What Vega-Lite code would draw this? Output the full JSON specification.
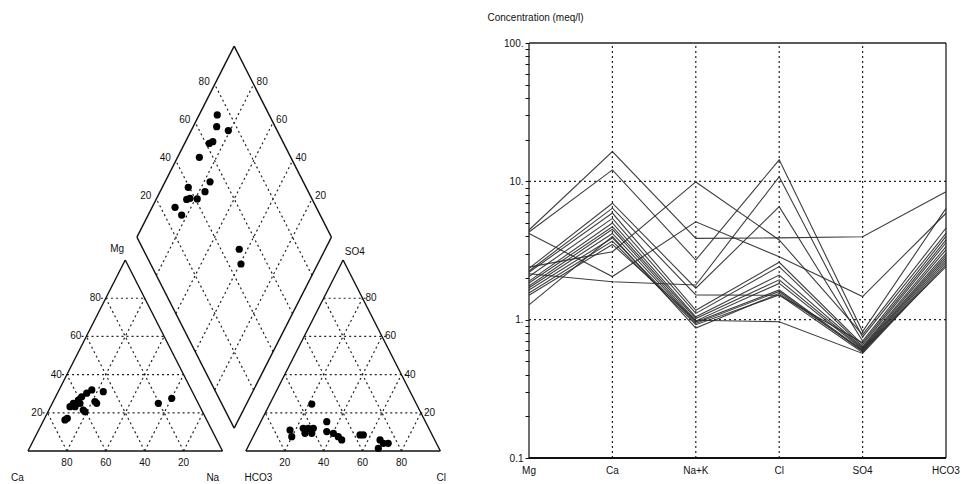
{
 "$schema": "https://vega.github.io/schema/vega-lite/v6.json",
 "width": 964, "height": 484, "padding": 0, "autosize": {"type": "none"},
 "background": "white",
 "config": {"view": {"stroke": null}, "text": {"font": "Liberation Sans", "fontSize": 10, "color": "#111"}},
 "datasets": {
  "pframe": [
   {"x":0,"y":0,"x2":100,"y2":0},{"x":100,"y":0,"x2":50,"y2":86.603},{"x":50,"y":86.603,"x2":0,"y2":0},
   {"x":112,"y":0,"x2":212,"y2":0},{"x":212,"y":0,"x2":162,"y2":86.603},{"x":162,"y":86.603,"x2":112,"y2":0},
   {"x":106,"y":10.392,"x2":56,"y2":96.995},{"x":56,"y":96.995,"x2":106,"y2":183.597},{"x":106,"y":183.597,"x2":156,"y2":96.995},{"x":156,"y":96.995,"x2":106,"y2":10.392}
  ],
  "pgrid": [
   {"x":7.5,"y":17.321,"x2":90,"y2":17.321},{"x":17.5,"y":34.641,"x2":80,"y2":34.641},{"x":27.5,"y":51.962,"x2":70,"y2":51.962},{"x":37.5,"y":69.282,"x2":60,"y2":69.282},
   {"x":80,"y":0,"x2":40,"y2":69.282},{"x":60,"y":0,"x2":30,"y2":51.962},{"x":40,"y":0,"x2":20,"y2":34.641},{"x":20,"y":0,"x2":10,"y2":17.321},
   {"x":20,"y":0,"x2":60,"y2":69.282},{"x":40,"y":0,"x2":70,"y2":51.962},{"x":60,"y":0,"x2":80,"y2":34.641},{"x":80,"y":0,"x2":90,"y2":17.321},
   {"x":122,"y":17.321,"x2":204.5,"y2":17.321},{"x":132,"y":34.641,"x2":194.5,"y2":34.641},{"x":142,"y":51.962,"x2":184.5,"y2":51.962},{"x":152,"y":69.282,"x2":174.5,"y2":69.282},
   {"x":192,"y":0,"x2":152,"y2":69.282},{"x":172,"y":0,"x2":142,"y2":51.962},{"x":152,"y":0,"x2":132,"y2":34.641},{"x":132,"y":0,"x2":122,"y2":17.321},
   {"x":132,"y":0,"x2":172,"y2":69.282},{"x":152,"y":0,"x2":182,"y2":51.962},{"x":172,"y":0,"x2":192,"y2":34.641},{"x":192,"y":0,"x2":202,"y2":17.321},
   {"x":116,"y":27.713,"x2":66,"y2":114.315},{"x":126,"y":45.033,"x2":76,"y2":131.636},{"x":136,"y":62.354,"x2":86,"y2":148.957},{"x":146,"y":79.674,"x2":96,"y2":166.277},
   {"x":96,"y":27.713,"x2":146,"y2":114.315},{"x":86,"y":45.033,"x2":136,"y2":131.636},{"x":76,"y":62.354,"x2":126,"y2":148.957},{"x":66,"y":79.674,"x2":116,"y2":166.277}
  ],
  "ppts": [
   {"x":19.0,"y":14.1},{"x":20.2,"y":14.8},{"x":21.6,"y":20.1},{"x":23.3,"y":21.6},{"x":24.2,"y":20.1},{"x":25.9,"y":23.1},{"x":26.7,"y":21.6},{"x":27.6,"y":24.6},{"x":30.2,"y":26.2},{"x":32.8,"y":27.7},{"x":28.4,"y":18.6},{"x":29.3,"y":17.8},{"x":34.4,"y":22.4},{"x":35.3,"y":21.6},{"x":38.7,"y":26.9},{"x":67.0,"y":21.6},{"x":73.9,"y":23.9},
   {"x":145.9,"y":21.3},{"x":134.7,"y":9.5},{"x":135.6,"y":6.5},{"x":141.5,"y":10.3},{"x":144.1,"y":10.3},{"x":146.7,"y":10.3},{"x":142.4,"y":8.0},{"x":145.9,"y":8.0},{"x":153.6,"y":13.3},{"x":153.6,"y":8.8},{"x":157.0,"y":8.0},{"x":159.5,"y":6.5},{"x":161.3,"y":5.0},{"x":170.7,"y":7.3},{"x":172.4,"y":7.3},{"x":181.0,"y":5.0},{"x":182.7,"y":3.5},{"x":185.2,"y":3.5},{"x":180.1,"y":1.2},
   {"x":97.3,"y":152.4},{"x":97.0,"y":147.1},{"x":103.0,"y":145.3},{"x":95.0,"y":140.3},{"x":93.2,"y":139.5},{"x":88.1,"y":133.2},{"x":93.6,"y":122.1},{"x":91.0,"y":117.6},{"x":82.4,"y":119.6},{"x":81.6,"y":114.1},{"x":83.3,"y":114.6},{"x":87.0,"y":114.3},{"x":75.6,"y":110.5},{"x":79.0,"y":107.0},{"x":108.6,"y":91.5},{"x":109.5,"y":84.8}
  ],
  "plabels": [
   {"t":"80","x":20,"y":-5.5,"g":"c"},{"t":"60","x":40,"y":-5.5,"g":"c"},{"t":"40","x":60,"y":-5.5,"g":"c"},{"t":"20","x":80,"y":-5.5,"g":"c"},
   {"t":"20","x":132,"y":-5.5,"g":"c"},{"t":"40","x":152,"y":-5.5,"g":"c"},{"t":"60","x":172,"y":-5.5,"g":"c"},{"t":"80","x":192,"y":-5.5,"g":"c"},
   {"t":"Mg","x":45.8,"y":91.6,"g":"c"},{"t":"SO4","x":168,"y":90.4,"g":"c"},{"t":"Ca","x":-5.5,"y":-12.2,"g":"c"},{"t":"Na","x":95,"y":-12.2,"g":"c"},{"t":"HCO3","x":118.5,"y":-12.2,"g":"c"},{"t":"Cl","x":212.5,"y":-12.2,"g":"c"},
   {"t":"20","x":10,"y":17.321,"g":"r"},{"t":"40","x":20,"y":34.641,"g":"r"},{"t":"60","x":30,"y":51.962,"g":"r"},{"t":"80","x":40,"y":69.282,"g":"r"},
   {"t":"20","x":66,"y":115.5,"g":"r"},{"t":"40","x":76,"y":132.8,"g":"r"},{"t":"60","x":86,"y":150.1,"g":"r"},{"t":"80","x":96,"y":167.4,"g":"r"},
   {"t":"20","x":202,"y":17.321,"g":"l"},{"t":"40","x":192,"y":34.641,"g":"l"},{"t":"60","x":182,"y":51.962,"g":"l"},{"t":"80","x":172,"y":69.282,"g":"l"},
   {"t":"20","x":146,"y":115.5,"g":"l"},{"t":"40","x":136,"y":132.8,"g":"l"},{"t":"60","x":126,"y":150.1,"g":"l"},{"t":"80","x":116,"y":167.4,"g":"l"}
  ],
  "ions": [
   {"ion":"Mg","idx":0,"label":"Mg"},{"ion":"Ca","idx":1,"label":"Ca"},{"ion":"NaK","idx":2,"label":"Na+K"},
   {"ion":"Cl","idx":3,"label":"Cl"},{"ion":"SO4","idx":4,"label":"SO4"},{"ion":"HCO3","idx":5,"label":"HCO3"}
  ],
  "samples": [
   {"s":1,"Mg":4.45,"Ca":16.4,"NaK":3.87,"Cl":3.9,"SO4":3.98,"HCO3":8.42},
   {"s":2,"Mg":4.3,"Ca":12.1,"NaK":2.7,"Cl":14.3,"SO4":0.82,"HCO3":6.38},
   {"s":3,"Mg":2.4,"Ca":3.1,"NaK":9.9,"Cl":3.77,"SO4":0.78,"HCO3":4.6},
   {"s":4,"Mg":4.2,"Ca":2.05,"NaK":5.1,"Cl":2.85,"SO4":1.47,"HCO3":5.88},
   {"s":5,"Mg":2.15,"Ca":1.88,"NaK":1.78,"Cl":10.8,"SO4":0.75,"HCO3":4.21},
   {"s":6,"Mg":2.35,"Ca":6.95,"NaK":1.69,"Cl":6.56,"SO4":0.7,"HCO3":4.0},
   {"s":7,"Mg":2.25,"Ca":6.4,"NaK":1.51,"Cl":1.5,"SO4":0.68,"HCO3":3.77},
   {"s":8,"Mg":2.2,"Ca":5.9,"NaK":1.17,"Cl":2.6,"SO4":0.66,"HCO3":3.6},
   {"s":9,"Mg":2.05,"Ca":5.4,"NaK":1.11,"Cl":2.42,"SO4":0.64,"HCO3":3.37},
   {"s":10,"Mg":1.9,"Ca":5.0,"NaK":1.05,"Cl":2.1,"SO4":0.63,"HCO3":3.2},
   {"s":11,"Mg":1.84,"Ca":4.7,"NaK":1.02,"Cl":1.94,"SO4":0.62,"HCO3":3.02},
   {"s":12,"Mg":1.75,"Ca":4.5,"NaK":0.98,"Cl":1.83,"SO4":0.61,"HCO3":2.9},
   {"s":13,"Mg":1.7,"Ca":4.2,"NaK":0.96,"Cl":1.64,"SO4":0.6,"HCO3":2.8},
   {"s":14,"Mg":1.64,"Ca":3.9,"NaK":0.94,"Cl":1.6,"SO4":0.59,"HCO3":2.7},
   {"s":15,"Mg":1.56,"Ca":3.7,"NaK":0.92,"Cl":1.51,"SO4":0.58,"HCO3":2.6},
   {"s":16,"Mg":1.5,"Ca":3.5,"NaK":0.99,"Cl":0.967,"SO4":0.57,"HCO3":2.5},
   {"s":17,"Mg":1.28,"Ca":4.0,"NaK":0.87,"Cl":1.55,"SO4":0.6,"HCO3":2.42}
  ],
  "sframe": [
   {"a":0,"b":0.1,"a2":0,"b2":100,"k":"frame"},{"a":0,"b":100,"a2":5,"b2":100,"k":"frame"},{"a":5,"b":0.1,"a2":5,"b2":100,"k":"frame"},
   {"a":0,"b":0.1,"a2":5,"b2":0.1,"k":"base"},
   {"a":1,"b":0.1,"a2":1,"b2":100,"k":"grid"},{"a":2,"b":0.1,"a2":2,"b2":100,"k":"grid"},{"a":3,"b":0.1,"a2":3,"b2":100,"k":"grid"},{"a":4,"b":0.1,"a2":4,"b2":100,"k":"grid"},
   {"a":0,"b":10,"a2":5,"b2":10,"k":"grid"},{"a":0,"b":1,"a2":5,"b2":1,"k":"grid"}
  ]
 },
 "layer": [
  {
   "layer": [
    {
     "data": {"name": "pgrid"},
     "mark": {"type": "rule", "stroke": "#222", "strokeWidth": 1.2, "strokeDash": [2, 3]},
     "encoding": {
      "x": {"field": "x", "type": "quantitative", "scale": {"domain": [-14.396, 481.23], "nice": false, "zero": false}, "axis": null},
      "y": {"field": "y", "type": "quantitative", "scale": {"domain": [-14.966, 204.535], "nice": false, "zero": false}, "axis": null},
      "x2": {"field": "x2"}, "y2": {"field": "y2"}
     }
    },
    {
     "data": {"name": "pframe"},
     "mark": {"type": "rule", "stroke": "#111", "strokeWidth": 1.4},
     "encoding": {
      "x": {"field": "x", "type": "quantitative", "scale": {"domain": [-14.396, 481.23], "nice": false, "zero": false}, "axis": null},
      "y": {"field": "y", "type": "quantitative", "scale": {"domain": [-14.966, 204.535], "nice": false, "zero": false}, "axis": null},
      "x2": {"field": "x2"}, "y2": {"field": "y2"}
     }
    },
    {
     "data": {"name": "ppts"},
     "mark": {"type": "circle", "size": 52, "color": "#000", "opacity": 1},
     "encoding": {
      "x": {"field": "x", "type": "quantitative", "scale": {"domain": [-14.396, 481.23], "nice": false, "zero": false}, "axis": null},
      "y": {"field": "y", "type": "quantitative", "scale": {"domain": [-14.966, 204.535], "nice": false, "zero": false}, "axis": null}
     }
    },
    {
     "data": {"name": "plabels"},
     "transform": [{"filter": "datum.g == 'c'"}],
     "mark": {"type": "text", "align": "center", "baseline": "middle"},
     "encoding": {
      "x": {"field": "x", "type": "quantitative", "scale": {"domain": [-14.396, 481.23], "nice": false, "zero": false}, "axis": null},
      "y": {"field": "y", "type": "quantitative", "scale": {"domain": [-14.966, 204.535], "nice": false, "zero": false}, "axis": null},
      "text": {"field": "t"}
     }
    },
    {
     "data": {"name": "plabels"},
     "transform": [{"filter": "datum.g == 'r'"}],
     "mark": {"type": "text", "align": "right", "baseline": "middle", "dx": -5},
     "encoding": {
      "x": {"field": "x", "type": "quantitative", "scale": {"domain": [-14.396, 481.23], "nice": false, "zero": false}, "axis": null},
      "y": {"field": "y", "type": "quantitative", "scale": {"domain": [-14.966, 204.535], "nice": false, "zero": false}, "axis": null},
      "text": {"field": "t"}
     }
    },
    {
     "data": {"name": "plabels"},
     "transform": [{"filter": "datum.g == 'l'"}],
     "mark": {"type": "text", "align": "left", "baseline": "middle", "dx": 3},
     "encoding": {
      "x": {"field": "x", "type": "quantitative", "scale": {"domain": [-14.396, 481.23], "nice": false, "zero": false}, "axis": null},
      "y": {"field": "y", "type": "quantitative", "scale": {"domain": [-14.966, 204.535], "nice": false, "zero": false}, "axis": null},
      "text": {"field": "t"}
     }
    }
   ]
  },
  {
   "layer": [
    {
     "data": {"name": "sframe"},
     "transform": [{"filter": "datum.k == 'grid'"}],
     "mark": {"type": "rule", "stroke": "#222", "strokeWidth": 1.2, "strokeDash": [2, 3]},
     "encoding": {
      "x": {"field": "a", "type": "quantitative", "scale": {"domain": [-6.34293, 5.21583], "nice": false, "zero": false}, "axis": null},
      "y": {"field": "b", "type": "quantitative", "scale": {"type": "log", "domain": [0.06489, 204.6], "nice": false},
            "axis": {"orient": "left", "offset": -529, "domain": false, "grid": false,
                     "values": [0.1,0.2,0.3,0.4,0.5,0.6,0.7,0.8,0.9,1,2,3,4,5,6,7,8,9,10,20,30,40,50,60,70,80,90,100],
                     "tickSize": 4, "tickColor": "#111", "tickWidth": 1,
                     "labelExpr": "datum.value == 100 ? '100.' : datum.value == 10 ? '10.' : datum.value == 1 ? '1.' : datum.value == 0.1 ? '0.1' : ''",
                     "labelFont": "Liberation Sans", "labelFontSize": 10, "labelColor": "#111", "labelPadding": 2, "labelOverlap": false, "labelFlush": false,
                     "title": "Concentration (meq/l)", "titleAngle": 0, "titleAlign": "left", "titleBaseline": "middle",
                     "titleX": -42, "titleY": 17, "titleFont": "Liberation Sans", "titleFontSize": 10, "titleFontWeight": "normal", "titleColor": "#111"}},
      "x2": {"field": "a2"}, "y2": {"field": "b2"}
     }
    },
    {
     "data": {"name": "sframe"},
     "transform": [{"filter": "datum.k == 'frame'"}],
     "mark": {"type": "rule", "stroke": "#222", "strokeWidth": 1.3},
     "encoding": {
      "x": {"field": "a", "type": "quantitative", "scale": {"domain": [-6.34293, 5.21583], "nice": false, "zero": false}, "axis": null},
      "y": {"field": "b", "type": "quantitative", "scale": {"type": "log", "domain": [0.06489, 204.6], "nice": false},
            "axis": {"orient": "left", "offset": -529, "domain": false, "grid": false,
                     "values": [0.1,0.2,0.3,0.4,0.5,0.6,0.7,0.8,0.9,1,2,3,4,5,6,7,8,9,10,20,30,40,50,60,70,80,90,100],
                     "tickSize": 4, "tickColor": "#111", "tickWidth": 1,
                     "labelExpr": "datum.value == 100 ? '100.' : datum.value == 10 ? '10.' : datum.value == 1 ? '1.' : datum.value == 0.1 ? '0.1' : ''",
                     "labelFont": "Liberation Sans", "labelFontSize": 10, "labelColor": "#111", "labelPadding": 2, "labelOverlap": false, "labelFlush": false,
                     "title": "Concentration (meq/l)", "titleAngle": 0, "titleAlign": "left", "titleBaseline": "middle",
                     "titleX": -42, "titleY": 17, "titleFont": "Liberation Sans", "titleFontSize": 10, "titleFontWeight": "normal", "titleColor": "#111"}},
      "x2": {"field": "a2"}, "y2": {"field": "b2"}
     }
    },
    {
     "data": {"name": "sframe"},
     "transform": [{"filter": "datum.k == 'base'"}],
     "mark": {"type": "rule", "stroke": "#111", "strokeWidth": 2.2},
     "encoding": {
      "x": {"field": "a", "type": "quantitative", "scale": {"domain": [-6.34293, 5.21583], "nice": false, "zero": false}, "axis": null},
      "y": {"field": "b", "type": "quantitative", "scale": {"type": "log", "domain": [0.06489, 204.6], "nice": false},
            "axis": {"orient": "left", "offset": -529, "domain": false, "grid": false,
                     "values": [0.1,0.2,0.3,0.4,0.5,0.6,0.7,0.8,0.9,1,2,3,4,5,6,7,8,9,10,20,30,40,50,60,70,80,90,100],
                     "tickSize": 4, "tickColor": "#111", "tickWidth": 1,
                     "labelExpr": "datum.value == 100 ? '100.' : datum.value == 10 ? '10.' : datum.value == 1 ? '1.' : datum.value == 0.1 ? '0.1' : ''",
                     "labelFont": "Liberation Sans", "labelFontSize": 10, "labelColor": "#111", "labelPadding": 2, "labelOverlap": false, "labelFlush": false,
                     "title": "Concentration (meq/l)", "titleAngle": 0, "titleAlign": "left", "titleBaseline": "middle",
                     "titleX": -42, "titleY": 17, "titleFont": "Liberation Sans", "titleFontSize": 10, "titleFontWeight": "normal", "titleColor": "#111"}},
      "x2": {"field": "a2"}, "y2": {"field": "b2"}
     }
    },
    {
     "data": {"name": "samples"},
     "transform": [
      {"fold": ["Mg", "Ca", "NaK", "Cl", "SO4", "HCO3"], "as": ["ion", "value"]},
      {"lookup": "ion", "from": {"data": {"name": "ions"}, "key": "ion", "fields": ["idx"]}}
     ],
     "mark": {"type": "line", "stroke": "#2a2a2a", "strokeWidth": 1.1, "opacity": 0.9},
     "encoding": {
      "x": {"field": "idx", "type": "quantitative", "scale": {"domain": [-6.34293, 5.21583], "nice": false, "zero": false}, "axis": null},
      "y": {"field": "value", "type": "quantitative", "scale": {"type": "log", "domain": [0.06489, 204.6], "nice": false},
            "axis": {"orient": "left", "offset": -529, "domain": false, "grid": false,
                     "values": [0.1,0.2,0.3,0.4,0.5,0.6,0.7,0.8,0.9,1,2,3,4,5,6,7,8,9,10,20,30,40,50,60,70,80,90,100],
                     "tickSize": 4, "tickColor": "#111", "tickWidth": 1,
                     "labelExpr": "datum.value == 100 ? '100.' : datum.value == 10 ? '10.' : datum.value == 1 ? '1.' : datum.value == 0.1 ? '0.1' : ''",
                     "labelFont": "Liberation Sans", "labelFontSize": 10, "labelColor": "#111", "labelPadding": 2, "labelOverlap": false, "labelFlush": false,
                     "title": "Concentration (meq/l)", "titleAngle": 0, "titleAlign": "left", "titleBaseline": "middle",
                     "titleX": -42, "titleY": 17, "titleFont": "Liberation Sans", "titleFontSize": 10, "titleFontWeight": "normal", "titleColor": "#111"}},
      "detail": {"field": "s", "type": "nominal"}
     }
    },
    {
     "data": {"name": "ions"},
     "mark": {"type": "text", "align": "center", "baseline": "top", "dy": 8, "fontSize": 10},
     "encoding": {
      "x": {"field": "idx", "type": "quantitative", "scale": {"domain": [-6.34293, 5.21583], "nice": false, "zero": false}, "axis": null},
      "y": {"datum": 0.1, "type": "quantitative", "scale": {"type": "log", "domain": [0.06489, 204.6], "nice": false},
            "axis": {"orient": "left", "offset": -529, "domain": false, "grid": false,
                     "values": [0.1,0.2,0.3,0.4,0.5,0.6,0.7,0.8,0.9,1,2,3,4,5,6,7,8,9,10,20,30,40,50,60,70,80,90,100],
                     "tickSize": 4, "tickColor": "#111", "tickWidth": 1,
                     "labelExpr": "datum.value == 100 ? '100.' : datum.value == 10 ? '10.' : datum.value == 1 ? '1.' : datum.value == 0.1 ? '0.1' : ''",
                     "labelFont": "Liberation Sans", "labelFontSize": 10, "labelColor": "#111", "labelPadding": 2, "labelOverlap": false, "labelFlush": false,
                     "title": "Concentration (meq/l)", "titleAngle": 0, "titleAlign": "left", "titleBaseline": "middle",
                     "titleX": -42, "titleY": 17, "titleFont": "Liberation Sans", "titleFontSize": 10, "titleFontWeight": "normal", "titleColor": "#111"}},
      "text": {"field": "label"}
     }
    }
   ]
  }
 ],
 "resolve": {"scale": {"x": "independent", "y": "independent"}, "axis": {"x": "independent", "y": "independent"}}
}
